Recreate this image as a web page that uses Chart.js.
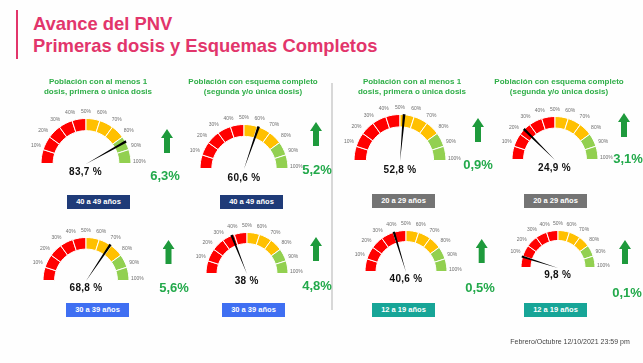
<!DOCTYPE html>
<html>
<head>
<meta charset="utf-8">
<script src="https://cdn.jsdelivr.net/npm/chart.js@4"></script>
<style>
body { margin: 0; background: #fff; font-family: "Liberation Sans", Arial, sans-serif; }
#page { position: relative; width: 643px; height: 363px; overflow: hidden; background: #fefefe; }
.abs { position: absolute; }
.c { transform: translate(-50%, -50%); white-space: nowrap; }
.bar { left: 16px; top: 10px; width: 2px; height: 49px; background: #e2356b; }
.head { left: 33px; top: 13px; color: #e2356b; font-weight: bold; font-size: 18.4px; line-height: 22px; }
.ttl { color: #2fae48; font-weight: bold; font-size: 8px; line-height: 10px; text-align: center; }
.val { font-weight: bold; font-size: 10px; color: #111; letter-spacing: 0.3px; }
.chg { color: #23a94b; font-size: 13px; font-weight: bold; }
.box { width: 63px; height: 14px; line-height: 14px; color: #fff; font-weight: bold; font-size: 7.5px; text-align: center; }
.arrow { width: 12px; height: 24px; background: #1e9a3c; clip-path: polygon(50% 0, 100% 38%, 75% 38%, 75% 100%, 25% 100%, 25% 38%, 0 38%); }
.divider { left: 331px; top: 83px; width: 2px; height: 227px; background: #d8d8d8; }
.foot { color: #444; font-size: 7px; }
</style>
</head>
<body>
<div id="page">
  <div class="abs bar"></div>
  <div class="abs head">Avance del PNV<br>Primeras dosis y Esquemas Completos</div>
  <div class="abs divider"></div>
</div>
<script>
// gauge data, top row then bottom row
const topTitles = [
  ["Población con al menos 1", "dosis, primera o única dosis"],
  ["Población con esquema completo", "(segunda y/o única dosis)"],
  ["Población con al menos 1", "dosis, primera o única dosis"],
  ["Población con esquema completo", "(segunda y/o única dosis)"]
];
const ageGroups = ["40 a 49 años", "40 a 49 años", "20 a 29 años", "20 a 29 años",
                   "30 a 39 años", "30 a 39 años", "12 a 19 años", "12 a 19 años"];
const coverage = [83.7, 60.6, 52.8, 24.9, 68.8, 38, 40.6, 9.8];
const weeklyChange = [6.3, 5.2, 0.9, 3.1, 5.6, 4.8, 0.5, 0.1];
const tickLabels = ["10%", "20%", "30%", "40%", "50%", "60%", "70%", "80%", "90%", "100%"];
const bandSizes = [10, 10, 10, 10, 10, 10, 10, 10, 10, 10];
const footerText = "Febrero/Octubre 12/10/2021 23:59 pm";

const bandColors = ["#ff0000", "#ff0000", "#ff0000", "#ff0000", "#ff0000",
                    "#ffc000", "#ffc000", "#ffc000", "#92d050", "#92d050"];

// where each gauge sits on the page
const layout = [
  { cx: 85.5, cy: 164, r: 46, vy: 171, ax: 167, ay: 129, chx: 165, chy: 175, bx: 67, by: 195, box: "#1f3b78" },
  { cx: 244, cy: 169, r: 45, vy: 177, ax: 316, ay: 122, chx: 317, chy: 169, bx: 220, by: 195, box: "#1f3b78" },
  { cx: 400, cy: 161, r: 47, vy: 169, ax: 478, ay: 118, chx: 478, chy: 164, bx: 372, by: 194, box: "#747474" },
  { cx: 554.5, cy: 160, r: 44, vy: 167, ax: 624, ay: 113, chx: 628, chy: 158, bx: 524, by: 194, box: "#747474" },
  { cx: 86, cy: 281, r: 44, vy: 287, ax: 168.5, ay: 240, chx: 174, chy: 287, bx: 66, by: 303, box: "#3f6ff2" },
  { cx: 246.7, cy: 274, r: 42, vy: 280, ax: 316, ay: 237, chx: 317, chy: 285, bx: 222, by: 303, box: "#3f6ff2" },
  { cx: 406, cy: 272, r: 42, vy: 278, ax: 481.7, ay: 239, chx: 480, chy: 287, bx: 372, by: 303, box: "#17a597" },
  { cx: 557.7, cy: 268, r: 38, vy: 274, ax: 625, ay: 240, chx: 627, chy: 292, bx: 524, by: 303, box: "#17a597" }
];
const titleX = [98, 253, 412, 559];

const page = document.getElementById("page");

function addEl(cls, html, x, y, styles) {
  const el = document.createElement("div");
  el.className = "abs " + cls;
  el.innerHTML = html;
  el.style.left = x + "px";
  el.style.top = y + "px";
  Object.assign(el.style, styles || {});
  page.appendChild(el);
  return el;
}

function fmt(v) {
  return String(v).replace(".", ",");
}

// percent labels round the outside of the dial
const tickPlugin = {
  id: "dialTicks",
  afterDatasetsDraw(chart) {
    const ctx = chart.ctx;
    const arcs = chart.getDatasetMeta(0).data;
    ctx.save();
    ctx.font = '5px "Liberation Sans"';
    ctx.fillStyle = "#6f6f6f";
    ctx.textAlign = "center";
    ctx.textBaseline = "middle";
    arcs.forEach((arc, k) => {
      const a = arc.endAngle;
      const tw = ctx.measureText(tickLabels[k]).width;
      const d = arc.outerRadius + 2 + tw / 2 * Math.abs(Math.cos(a)) + 3 * Math.abs(Math.sin(a));
      ctx.fillText(tickLabels[k], arc.x + Math.cos(a) * d, arc.y + Math.sin(a) * d - 2);
    });
    ctx.restore();
  }
};

function makeCanvas(left, top, w, h) {
  const c = document.createElement("canvas");
  c.width = w;
  c.height = h;
  c.className = "abs";
  c.style.left = left + "px";
  c.style.top = top + "px";
  page.appendChild(c);
  return c;
}

const needleWidth = 1.8;

layout.forEach((g, i) => {
  const pad = 18, padTop = 10, padBottom = 4;
  const w = Math.round(2 * (g.r + pad)), h = Math.round(g.r + padTop + padBottom);
  const left = g.cx - w / 2, top = g.cy - g.r - padTop;
  const base = {
    responsive: false,
    animation: false,
    events: [],
    rotation: -90,
    circumference: 180,
    layout: { padding: { left: pad, right: pad, top: padTop, bottom: padBottom } },
    plugins: { legend: { display: false }, tooltip: { enabled: false } }
  };

  // coloured bands
  new Chart(makeCanvas(left, top, w, h), {
    type: "doughnut",
    data: {
      labels: tickLabels,
      datasets: [{ data: bandSizes, backgroundColor: bandColors, borderColor: "#ffffff", borderWidth: 1 }]
    },
    options: Object.assign({}, base, { cutout: "73%" }),
    plugins: [tickPlugin]
  });

  // needle: a thin black slice at the value
  const v = coverage[i];
  new Chart(makeCanvas(left, top, w, h), {
    type: "pie",
    data: {
      labels: ["before", "value", "after"],
      datasets: [{
        data: [v - needleWidth / 2, needleWidth, 100 - v - needleWidth / 2],
        backgroundColor: ["rgba(0,0,0,0)", "#000000", "rgba(0,0,0,0)"],
        borderWidth: 0
      }]
    },
    options: base
  });

  addEl("c val", fmt(v) + " %", g.cx, g.vy);
  addEl("arrow", "", g.ax - 6, g.ay);
  addEl("c chg", fmt(weeklyChange[i]) + "%", g.chx, g.chy);
  addEl("box", ageGroups[i], g.bx, g.by, { background: g.box });
});

topTitles.forEach((t, i) => {
  addEl("c ttl", t[0] + "<br>" + t[1], titleX[i], 87);
});

addEl("c foot", footerText, 570, 341);
</script>
</body>
</html>
